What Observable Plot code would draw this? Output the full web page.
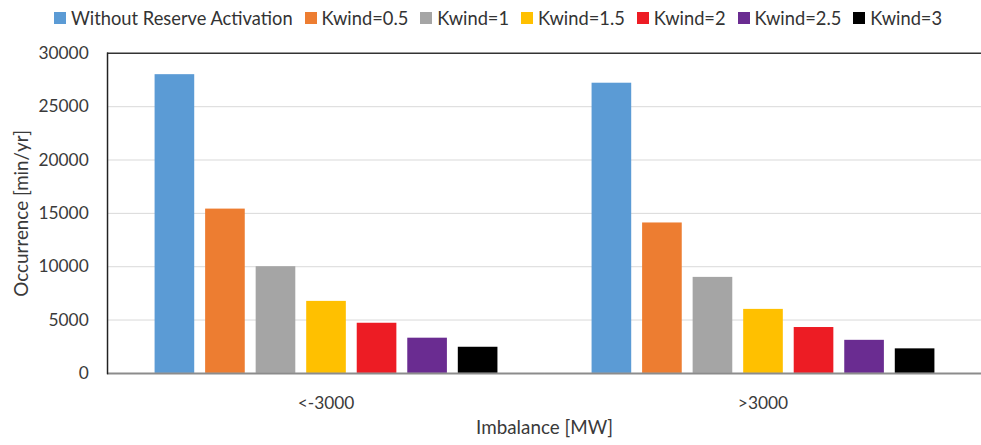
<!DOCTYPE html>
<html>
<head>
<meta charset="utf-8">
<script src="https://cdn.jsdelivr.net/npm/d3@7"></script>
<script src="https://cdn.jsdelivr.net/npm/@observablehq/plot@0.6"></script>
<style>
  html, body { margin: 0; padding: 0; background: #fff; overflow: hidden; width: 981px; height: 445px; }
  #legend { height: 35px; display: flex; align-items: center; padding-left: 54px; gap: 12px;
            font: 18.3px Lato, "Open Sans", sans-serif; color: #333; white-space: nowrap; }
  #legend .item { display: flex; align-items: center; }
  #legend .sw { width: 12px; height: 12px; margin-right: 5px; display: inline-block; }
  #chart svg { display: block; }
</style>
</head>
<body>
<div id="legend"></div>
<div id="chart"></div>
<script>
const groups = ["<-3000", ">3000"];
const series = ["Without Reserve Activation", "Kwind=0.5", "Kwind=1", "Kwind=1.5", "Kwind=2", "Kwind=2.5", "Kwind=3"];
const colors = ["#5B9BD5", "#ED7D31", "#A5A5A5", "#FFC000", "#ED1C24", "#6A2C91", "#000000"];
const valuesNeg = [28000, 15400, 10000, 6750, 4700, 3300, 2450];
const valuesPos = [27200, 14100, 9000, 6000, 4300, 3100, 2300];
const yTicks = [0, 5000, 10000, 15000, 20000, 25000, 30000];

const data = [];
series.forEach((s, i) => {
  data.push({group: groups[0], series: s, value: valuesNeg[i]});
  data.push({group: groups[1], series: s, value: valuesPos[i]});
});

// legend
const legend = document.getElementById("legend");
series.forEach((s, i) => {
  const item = document.createElement("span");
  item.className = "item";
  const sw = document.createElement("span");
  sw.className = "sw";
  sw.style.background = colors[i];
  item.appendChild(sw);
  item.appendChild(document.createTextNode(s));
  legend.appendChild(item);
});

const chart = Plot.plot({
  width: 990,
  height: 410,
  marginTop: 18,
  marginBottom: 69,
  marginLeft: 107,
  marginRight: 0,
  style: {fontFamily: "Lato, 'Open Sans', sans-serif", fontSize: "17px", color: "#3a3a3a", background: "#fff"},
  fx: {domain: groups, padding: 0, label: null},
  x: {domain: series, paddingInner: 0.22, paddingOuter: 0.88, axis: null},
  y: {domain: [0, 30000], label: null},
  color: {domain: series, range: colors},
  marks: [
    Plot.gridY(yTicks.slice(1, -1), {stroke: "#d9d9d9", strokeOpacity: 1, strokeWidth: 1}),
    Plot.barY(data, {fx: "group", x: "series", y: "value", fill: "series"}),
    Plot.ruleY([0], {stroke: "#8c8c8c", strokeWidth: 2}),
    Plot.ruleY([30000], {stroke: "#333", strokeWidth: 1.5}),
    Plot.frame({anchor: "left", facetAnchor: "left", stroke: "#222", strokeWidth: 1.5}),
    Plot.axisY(yTicks, {tickSize: 0, tickPadding: 19, fontSize: 17.5, tickFormat: d3.format("d"),
      label: "Occurrence [min/yr]", labelArrow: "none", labelAnchor: "center", labelOffset: 94, facetAnchor: "left"}),
    Plot.axisFx({anchor: "bottom", tickSize: 0, tickPadding: 24, fontSize: 17.5,
      label: "Imbalance [MW]", labelArrow: "none", labelAnchor: "center", labelOffset: 61})
  ]
});
document.getElementById("chart").appendChild(chart);
chart.querySelectorAll("g[aria-label='y-axis label'] text, g[aria-label='fx-axis label'] text").forEach(t => t.setAttribute("font-size", "19"));
</script>
</body>
</html>
